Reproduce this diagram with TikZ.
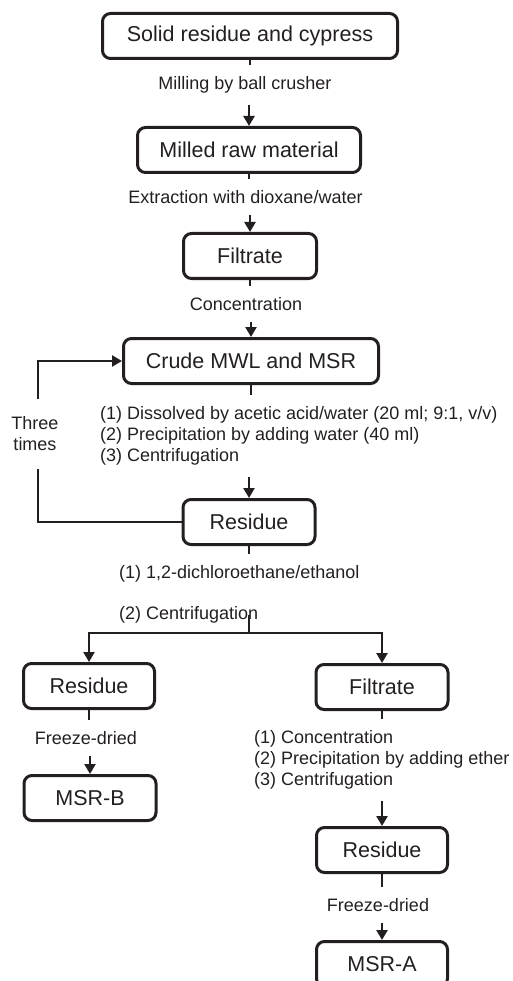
\documentclass[tikz,border=0pt]{standalone}
\usepackage{fontspec}
\setmainfont{Liberation Sans}
\usetikzlibrary{arrows.meta}
\definecolor{ink}{RGB}{35,31,32}

\begin{document}
\begin{tikzpicture}[x=1pt, y=-1pt,
  box/.style={draw=ink, text=ink, rounded corners=8pt, line width=3pt,
    minimum height=45pt, inner sep=0pt, font=\fontsize{21.5}{26}\selectfont},
  note/.style={text=ink, inner xsep=0pt, inner ysep=11pt,
    font=\fontsize{18}{21}\selectfont},
  flow/.style={draw=ink, line width=2.5pt},
  arr/.style={flow, -{Triangle[width=11pt,length=10pt]}}]

% Page size
\clip (0,0) rectangle (512,981);

% Main column
\node[box, minimum width=295pt] (solid) at (250,36) {Solid residue and cypress};
\node[note] (mill) at (245,85) {Milling by ball crusher};
\node[box, minimum width=223pt] (milled) at (249,150) {Milled raw material};
\node[note] (extr) at (245.5,197) {Extraction with dioxane/water};
\node[box, minimum width=133pt] (filt) at (250,256) {Filtrate};
\node[note] (conc) at (246,304) {Concentration};
\node[box, minimum width=255pt] (crude) at (251,361) {Crude MWL and MSR};
\node[note, align=left, anchor=west] (wash) at (100,436)
  {(1) Dissolved by acetic acid/water (20 ml; 9:1, v/v)\\
   (2) Precipitation by adding water (40 ml)\\
   (3) Centrifugation};
\node[box, minimum width=132pt] (res) at (249,522) {Residue};
\node[note, inner ysep=18pt, align=center] (times) at (35,434) {Three\\times};
\node[note, anchor=west] (solv) at (119,574) {(1) 1,2-dichloroethane/ethanol};
\node[note, anchor=west] (cent) at (119,615) {(2) Centrifugation};

% Left branch
\node[box, minimum width=131pt] (resB) at (89,686) {Residue};
\node[note] (dryB) at (86,738) {Freeze-dried};
\node[box, minimum width=132pt] (msrB) at (90,798) {MSR-B};

% Right branch
\node[box, minimum width=132pt] (filtA) at (382,687) {Filtrate};
\node[note, align=left, anchor=west] (prec) at (254,760)
  {(1) Concentration\\
   (2) Precipitation by adding ether\\
   (3) Centrifugation};
\node[box, minimum width=131pt] (resA) at (382,850) {Residue};
\node[note] (dryA) at (378,905) {Freeze-dried};
\node[box, minimum width=131pt] (msrA) at (382,964) {MSR-A};

% Steps: stub, text, arrow
\foreach \a/\t/\b in {solid/mill/milled, milled/extr/filt, filt/conc/crude,
    crude/wash/res, resB/dryB/msrB, filtA/prec/resA, resA/dryA/msrA} {
  \draw[flow] (\a) -- (\a |- \t.north);
  \draw[arr] (\b |- \t.south) -- (\b);
}

% Repeat loop
\coordinate (back) at (38,522);
\draw[flow] (res) -- (back) -- (back |- times.south);
\draw[arr] (back |- times.north) |- (crude);

% Split into residue and filtrate
\coordinate (split) at (249,633);
\draw[flow] (res) -- (res |- solv.north);
\draw[flow] (split |- cent.center) -- (split);
\draw[arr] (split) -| (resB);
\draw[arr] (split) -| (filtA);

\end{tikzpicture}
\end{document}
